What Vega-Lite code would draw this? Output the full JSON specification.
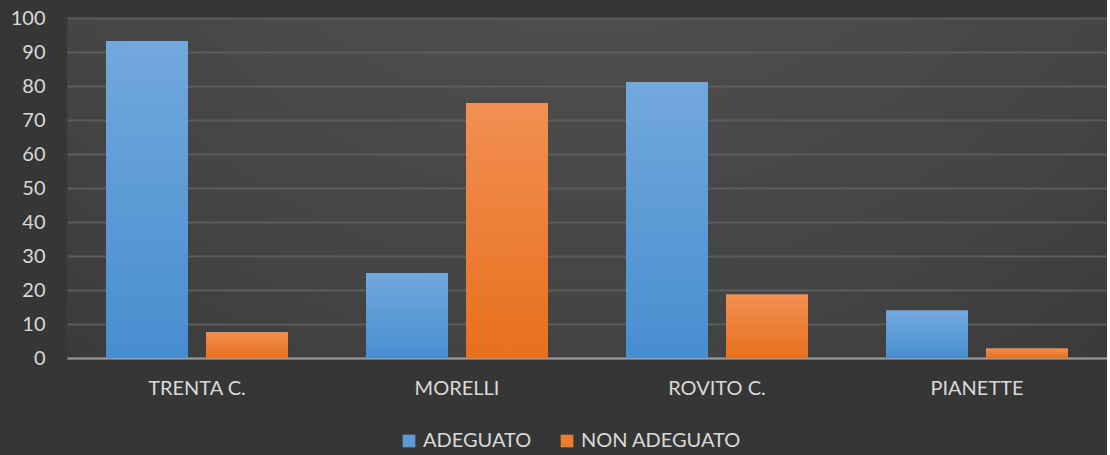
{
  "$schema": "https://vega.github.io/schema/vega-lite/v6.json",
  "width": 1040,
  "height": 340,
  "padding": {"left": 10, "top": 8, "right": 0, "bottom": 10},
  "background": "#363636",
  "config": {
    "font": "Lato",
    "view": {"stroke": null, "fill": {"expr": "{gradient: 'radial', x1: 0.5, y1: 0, r1: 0, x2: 0.5, y2: 0, r2: 1.1, stops: [{offset: 0, color: '#585858'}, {offset: 0.6, color: '#434343'}, {offset: 1, color: '#2c2c2c'}]}"}},
    "axis": {"labelColor": "#d9d9d9", "labelFontSize": 20, "labelFont": "Lato", "ticks": false, "title": null}
  },
  "data": {
    "values": [
      {"plesso": "TRENTA C.", "serie": "ADEGUATO", "valore": 93.2},
      {"plesso": "TRENTA C.", "serie": "NON ADEGUATO", "valore": 7.6},
      {"plesso": "MORELLI", "serie": "ADEGUATO", "valore": 25},
      {"plesso": "MORELLI", "serie": "NON ADEGUATO", "valore": 75},
      {"plesso": "ROVITO C.", "serie": "ADEGUATO", "valore": 81.2},
      {"plesso": "ROVITO C.", "serie": "NON ADEGUATO", "valore": 18.7},
      {"plesso": "PIANETTE", "serie": "ADEGUATO", "valore": 14},
      {"plesso": "PIANETTE", "serie": "NON ADEGUATO", "valore": 2.8}
    ]
  },
  "encoding": {
    "x": {
      "field": "plesso", "type": "nominal", "sort": null,
      "scale": {"paddingInner": 0.3, "paddingOuter": 0.15},
      "axis": {"labelAngle": 0, "labelPadding": 20, "domainColor": "#9a9a9a", "domainWidth": 2, "grid": false}
    },
    "xOffset": {"field": "serie", "type": "nominal", "scale": {"paddingInner": 0.18, "paddingOuter": 0}},
    "y": {
      "field": "valore", "type": "quantitative",
      "scale": {"domain": [0, 100]},
      "axis": {"values": [0,10,20,30,40,50,60,70,80,90,100], "domain": false, "labelPadding": 22, "gridColor": "#5c5c5c", "gridWidth": 2}
    }
  },
  "layer": [
    {
      "mark": {"type": "bar"},
      "encoding": {
        "color": {
          "field": "serie", "type": "nominal",
          "scale": {"domain": ["ADEGUATO", "NON ADEGUATO"], "range": ["#5b9bd5", "#ed7d31"]},
          "legend": {"orient": "none", "legendX": 332, "legendY": 413, "direction": "horizontal", "title": null, "symbolType": "square", "symbolSize": 160, "symbolStrokeWidth": 0, "labelColor": "#d9d9d9", "labelFontSize": 20, "labelFont": "Lato", "columnPadding": 25, "labelOffset": 4}
        }
      }
    },
    {
      "mark": {"type": "bar"},
      "encoding": {
        "fill": {
          "condition": {"test": "datum.serie === 'ADEGUATO'", "value": {"gradient": "linear", "x1": 0, "y1": 0, "x2": 0, "y2": 1, "stops": [{"offset": 0, "color": "#72a8dd"}, {"offset": 1, "color": "#478ecf"}]}},
          "value": {"gradient": "linear", "x1": 0, "y1": 0, "x2": 0, "y2": 1, "stops": [{"offset": 0, "color": "#f28f52"}, {"offset": 1, "color": "#e7701c"}]}
        }
      }
    }
  ]
}
